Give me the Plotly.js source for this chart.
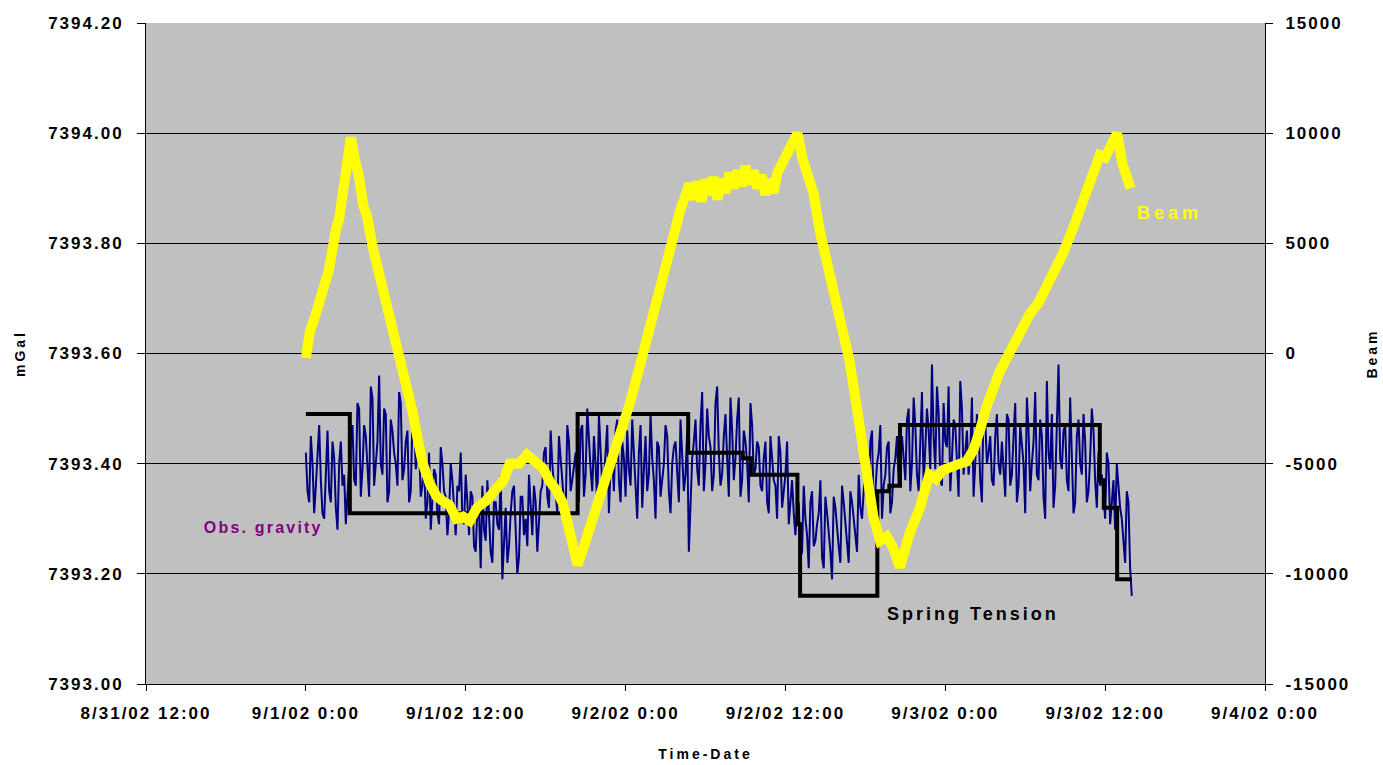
<!DOCTYPE html>
<html>
<head>
<meta charset="utf-8">
<script src="https://cdn.plot.ly/plotly-3.0.1.min.js"></script>
<style>
  html, body { margin: 0; padding: 0; background: #fff; }
  #chart { width: 1383px; height: 765px; }
  .xtick text, .ytick text, .y2tick text { letter-spacing: 2px; }
  .g-xtitle text, .g-ytitle text, .g-y2title text { letter-spacing: 3px; }
  g.annotation[data-index="0"] text { letter-spacing: 2.2px; }
  g.annotation[data-index="1"] text { letter-spacing: 4px; }
  g.annotation[data-index="2"] text { letter-spacing: 3px; }
</style>
</head>
<body>
<div id="chart"></div>
<script>
// ---- DATA (hours after 9/1/02 0:00) ----
const startDate = "2002-09-01";

// Observed gravity (mGal), readings every 0.25 h from hour 0
const gravityStepHours = 0.25;
const gravity = [
  7393.42, 7393.33, 7393.40, 7393.36, 7393.47, 7393.31, 7393.38, 7393.35, 7393.44, 7393.32, 7393.40, 7393.36, 7393.29, 7393.41,
  7393.47, 7393.36, 7393.50, 7393.39, 7393.45, 7393.34, 7393.52, 7393.41, 7393.56, 7393.38, 7393.49, 7393.35, 7393.46, 7393.40, 7393.53, 7393.37, 7393.44, 7393.33, 7393.48, 7393.39, 7393.43,
  7393.36, 7393.30, 7393.42, 7393.33, 7393.38, 7393.29, 7393.40, 7393.34, 7393.31, 7393.37, 7393.27, 7393.35, 7393.30, 7393.38,
  7393.27, 7393.34, 7393.24, 7393.31, 7393.36, 7393.26, 7393.30, 7393.22, 7393.33, 7393.28, 7393.19, 7393.32, 7393.25, 7393.35, 7393.29, 7393.23, 7393.34, 7393.30, 7393.38, 7393.27, 7393.33, 7393.29,
  7393.36, 7393.43, 7393.32, 7393.40, 7393.35, 7393.45, 7393.38, 7393.31, 7393.44, 7393.37,
  7393.42, 7393.33, 7393.47, 7393.38, 7393.44, 7393.35, 7393.40, 7393.49, 7393.36, 7393.43, 7393.31, 7393.41, 7393.46, 7393.37, 7393.44, 7393.34, 7393.39, 7393.48, 7393.36, 7393.42, 7393.32, 7393.45, 7393.38, 7393.41, 7393.30, 7393.43, 7393.37, 7393.47, 7393.35, 7393.40, 7393.44, 7393.33, 7393.42, 7393.38, 7393.24, 7393.41,
  7393.48, 7393.36, 7393.53, 7393.40, 7393.45, 7393.35, 7393.51, 7393.42, 7393.38, 7393.49, 7393.34, 7393.46, 7393.41, 7393.52, 7393.37, 7393.44, 7393.33, 7393.47, 7393.39, 7393.43,
  7393.35, 7393.44, 7393.31, 7393.40, 7393.36, 7393.45, 7393.32, 7393.38, 7393.29, 7393.37,
  7393.27, 7393.33, 7393.24, 7393.30, 7393.21, 7393.35, 7393.26, 7393.31, 7393.23, 7393.34, 7393.28, 7393.19, 7393.32, 7393.25, 7393.36, 7393.29, 7393.22, 7393.33, 7393.27, 7393.38, 7393.30,
  7393.40, 7393.32, 7393.46, 7393.35, 7393.42, 7393.30, 7393.38, 7393.44, 7393.33, 7393.41, 7393.36,
  7393.45, 7393.37, 7393.50, 7393.40, 7393.47, 7393.35, 7393.53, 7393.42, 7393.46, 7393.58, 7393.39, 7393.49, 7393.36, 7393.44, 7393.54, 7393.41, 7393.47, 7393.34, 7393.50, 7393.43, 7393.38, 7393.52, 7393.40, 7393.46, 7393.33, 7393.48, 7393.42, 7393.37, 7393.45, 7393.40,
  7393.44, 7393.34, 7393.48, 7393.38, 7393.51, 7393.36, 7393.43, 7393.31, 7393.46, 7393.40, 7393.53, 7393.37, 7393.45, 7393.30, 7393.42, 7393.49, 7393.36, 7393.58, 7393.39, 7393.47, 7393.35, 7393.43, 7393.33, 7393.48, 7393.38, 7393.44, 7393.35, 7393.50, 7393.37, 7393.42,
  7393.38, 7393.30, 7393.40, 7393.33, 7393.28, 7393.36,
  7393.30, 7393.22, 7393.33, 7393.16
];
// Observed gravity readings taken between the readings above (half-step offsets)
const gravityMid = [
  7393.35, 7393.45, 7393.31, 7393.43, 7393.37, 7393.30, 7393.46, 7393.33, 7393.41, 7393.28, 7393.44, 7393.38, 7393.34, 7393.45,
  7393.37, 7393.51, 7393.34, 7393.47, 7393.38, 7393.54, 7393.36, 7393.44, 7393.40, 7393.50, 7393.33, 7393.48, 7393.42, 7393.36, 7393.51, 7393.39, 7393.46, 7393.35, 7393.49, 7393.41, 7393.34,
  7393.41, 7393.33, 7393.28, 7393.39, 7393.31, 7393.43, 7393.35, 7393.27, 7393.40, 7393.32, 7393.36, 7393.42, 7393.29, 7393.33,
  7393.35, 7393.25, 7393.32, 7393.21, 7393.28, 7393.37, 7393.24, 7393.33, 7393.29, 7393.38, 7393.26, 7393.22, 7393.31, 7393.36, 7393.20, 7393.34, 7393.27, 7393.25, 7393.32, 7393.36, 7393.24, 7393.35,
  7393.42, 7393.34, 7393.46, 7393.36, 7393.31, 7393.41, 7393.33, 7393.47, 7393.35, 7393.40,
  7393.36, 7393.46, 7393.34, 7393.50, 7393.39, 7393.45, 7393.32, 7393.43, 7393.37, 7393.47, 7393.40, 7393.35, 7393.48, 7393.33, 7393.41, 7393.46, 7393.36, 7393.43, 7393.30, 7393.47, 7393.39, 7393.35, 7393.49, 7393.37, 7393.44, 7393.34, 7393.40, 7393.45, 7393.31, 7393.43, 7393.38, 7393.48, 7393.35, 7393.46, 7393.33, 7393.44,
  7393.39, 7393.47, 7393.35, 7393.50, 7393.43, 7393.38, 7393.54, 7393.36, 7393.45, 7393.41, 7393.52, 7393.37, 7393.48, 7393.34, 7393.46, 7393.40, 7393.51, 7393.38, 7393.44, 7393.36,
  7393.41, 7393.33, 7393.45, 7393.37, 7393.30, 7393.42, 7393.35, 7393.44, 7393.33, 7393.31,
  7393.32, 7393.23, 7393.36, 7393.27, 7393.33, 7393.25, 7393.29, 7393.37, 7393.21, 7393.31, 7393.24, 7393.34, 7393.28, 7393.22, 7393.33, 7393.26, 7393.35, 7393.30, 7393.24, 7393.32, 7393.36,
  7393.34, 7393.44, 7393.30, 7393.40, 7393.47, 7393.36, 7393.43, 7393.31, 7393.39, 7393.45, 7393.42,
  7393.40, 7393.48, 7393.35, 7393.52, 7393.38, 7393.44, 7393.36, 7393.50, 7393.39, 7393.45, 7393.54, 7393.37, 7393.51, 7393.43, 7393.35, 7393.48, 7393.40, 7393.55, 7393.38, 7393.46, 7393.42, 7393.34, 7393.49, 7393.37, 7393.51, 7393.40, 7393.45, 7393.36, 7393.49, 7393.38,
  7393.39, 7393.49, 7393.36, 7393.45, 7393.33, 7393.47, 7393.40, 7393.52, 7393.35, 7393.44, 7393.38, 7393.48, 7393.34, 7393.55, 7393.39, 7393.32, 7393.50, 7393.41, 7393.46, 7393.37, 7393.52, 7393.31, 7393.45, 7393.40, 7393.49, 7393.33, 7393.41, 7393.46, 7393.32, 7393.36,
  7393.33, 7393.42, 7393.29, 7393.37, 7393.40, 7393.32,
  7393.26, 7393.35, 7393.21
];

// Spring tension (mGal), step changes
const springHours = [0, 3.3, 20.4, 28.7, 32.8, 33.4, 36.9, 37.1, 42.9, 43.8, 44.6, 59.6, 59.9, 60.9, 62.0];
const springValues = [7393.49, 7393.31, 7393.49, 7393.42, 7393.41, 7393.38, 7393.29, 7393.16, 7393.35, 7393.36, 7393.47, 7393.37, 7393.32, 7393.19, 7393.19];

// Beam (right axis)
const beamHours = [
  0, 0.3, 0.75, 1.2, 1.73, 2.25, 2.5, 2.78, 3.08, 3.38,
  3.68, 4.0, 4.28, 4.6, 5.03, 5.4, 5.78, 6.2, 6.53, 6.9,
  7.28, 7.6, 8.03, 8.4, 8.78, 9.3, 9.83, 10.3, 10.8, 11.3,
  11.8, 12.3, 12.84, 13.5, 14.3, 14.8, 15.3, 16.0, 16.6, 17.2,
  17.8, 18.3, 18.8, 19.3, 19.8, 20.1, 20.4, 20.9, 21.5, 22.0,
  22.6, 23.1, 23.6, 24.3, 25.1, 25.6, 26.05, 26.6, 27.1, 27.6,
  28.1, 28.8, 29.1, 29.4, 29.7, 30.0, 30.3, 30.6, 30.9, 31.2,
  31.5, 31.8, 32.1, 32.4, 32.7, 33.0, 33.3, 33.6, 33.9, 34.2,
  34.5, 34.8, 35.1, 35.4, 35.8, 36.4, 36.9, 37.3, 38.1, 38.6,
  39.3, 40.1, 40.8, 41.4, 42.1, 42.6, 43.1, 43.6, 44.07, 44.6,
  45.3, 46.1, 46.8, 47.3, 47.8, 48.5, 49.1, 49.6, 50.1, 50.6,
  51.1, 52.1, 53.1, 53.7, 54.35, 55.0, 55.6, 56.2, 56.8, 57.6,
  58.3, 59.1, 59.6, 60.0, 60.4, 60.9, 61.3, 61.6, 61.9
];
const beamValues = [
  -200, 1000, 1800, 2900, 3800, 5600, 6100, 7300, 8500, 9800,
  8800, 8000, 6800, 6200, 4800, 3900, 2700, 1800, 1000, 100,
  -900, -1700, -2700, -3900, -5000, -5900, -6500, -6700, -6900, -7500,
  -7400, -7600, -7000, -6700, -6200, -5800, -5000, -5000, -4600, -4900,
  -5200, -5800, -6200, -6800, -8200, -9000, -9600, -8700, -7600, -6600,
  -5300, -4600, -3800, -2300, -500, 700, 1900, 3100, 4200, 5300,
  6500, 7700, 7000, 7800, 6900, 7900, 7200, 8000, 7000, 7900,
  7300, 8200, 7500, 8300, 7600, 8500, 7700, 8300, 7500, 8100,
  7200, 7900, 7300, 8200, 8700, 9300, 10000, 8800, 7300, 5500,
  3500, 1600, -300, -2600, -5200, -7400, -8500, -8300, -8800, -9700,
  -8200, -7000, -5500, -5700, -5300, -5200, -5000, -4900, -4400, -3500,
  -2400, -800, 400, 1000, 1800, 2300, 3000, 3600, 4500, 5700,
  6800, 8000, 9000, 8900, 9400, 10000, 8600, 8000, 7500
];

// Axes
const xRange = ["2002-08-31 12:00", "2002-09-04 00:00"];
const leftRange = [7393.0, 7394.2];
const rightTickVals = [-15000, -10000, -5000, 0, 5000, 10000, 15000];
const rightTickText = ["-15000", "-10000", "-5000", "0", "5000", "10000", "15000"];

// ---- BUILD ----
const baseMs = Date.parse(startDate + "T00:00:00Z");
function hToDate(h) {
  return new Date(baseMs + h * 3600000).toISOString().replace("T", " ").slice(0, 19);
}
const gX = [], gY = [];
gravity.forEach((v, i) => {
  gX.push(hToDate(i * gravityStepHours)); gY.push(v);
  if (i < gravityMid.length) {
    gX.push(hToDate((i + 0.5) * gravityStepHours)); gY.push(gravityMid[i]);
  }
});

const FONT = "Liberation Sans, Arial, sans-serif";

const traces = [
  {
    x: gX, y: gY, type: "scatter", mode: "lines",
    line: { color: "#000080", width: 2 }, yaxis: "y", hoverinfo: "skip"
  },
  {
    x: springHours.map(hToDate), y: springValues, type: "scatter", mode: "lines",
    line: { color: "#000000", width: 4, shape: "hv" }, yaxis: "y", hoverinfo: "skip"
  },
  {
    x: beamHours.map(hToDate), y: beamValues, type: "scatter", mode: "lines",
    line: { color: "#FFFF00", width: 10 }, yaxis: "y2", hoverinfo: "skip"
  }
];

const tickFont = { family: FONT, size: 17, color: "#000", weight: "bold" };
const titleFont = { family: FONT, size: 14, color: "#000", weight: "bold" };

const layout = {
  width: 1383, height: 765,
  margin: { l: 146, r: 118, t: 23, b: 81 },
  paper_bgcolor: "#ffffff",
  plot_bgcolor: "#C0C0C0",
  showlegend: false,
  xaxis: {
    type: "date",
    range: xRange,
    tick0: "2002-08-31 12:00",
    dtick: 43200000,
    tickformat: "%-m/%-d/%y %-H:%M",
    showgrid: false, zeroline: false,
    showline: true, linecolor: "#000", linewidth: 1,
    ticks: "outside", ticklen: 6, tickcolor: "#000",
    tickfont: tickFont,
    ticklabelstandoff: 8,
    title: { text: "Time-Date", font: titleFont, standoff: 26 }
  },
  yaxis: {
    range: leftRange,
    dtick: 0.2, tick0: 7393.0,
    tickformat: ".2f",
    showgrid: true, gridcolor: "#000", gridwidth: 1,
    zeroline: false,
    showline: true, linecolor: "#000", linewidth: 1,
    ticks: "outside", ticklen: 8, tickcolor: "#000",
    tickfont: tickFont,
    ticklabelstandoff: 10,
    title: { text: "mGal", font: titleFont, standoff: 19 }
  },
  yaxis2: {
    overlaying: "y", side: "right",
    range: [-15000, 15000],
    tickvals: rightTickVals, ticktext: rightTickText,
    showgrid: false, zeroline: false,
    showline: true, linecolor: "#000", linewidth: 1,
    ticks: "outside", ticklen: 7, tickcolor: "#000",
    tickfont: tickFont,
    ticklabelstandoff: 9,
    title: { text: "Beam", font: titleFont, standoff: 17 }
  },
  annotations: [
    { text: "Obs. gravity", xref: "paper", yref: "paper", x: 0.1046, y: 0.2375, showarrow: false,
      font: { family: FONT, size: 16, color: "#800080", weight: "bold" }, xanchor: "center", yanchor: "middle" },
    { text: "Beam", xref: "paper", yref: "paper", x: 0.915, y: 0.7126, showarrow: false,
      font: { family: FONT, size: 18, color: "#FFFF00", weight: "bold" }, xanchor: "center", yanchor: "middle" },
    { text: "Spring Tension", xref: "paper", yref: "paper", x: 0.739, y: 0.1059, showarrow: false,
      font: { family: FONT, size: 18, color: "#000", weight: "bold" }, xanchor: "center", yanchor: "middle" }
  ]
};

Plotly.newPlot("chart", traces, layout, { staticPlot: true, displayModeBar: false });
</script>
</body>
</html>
